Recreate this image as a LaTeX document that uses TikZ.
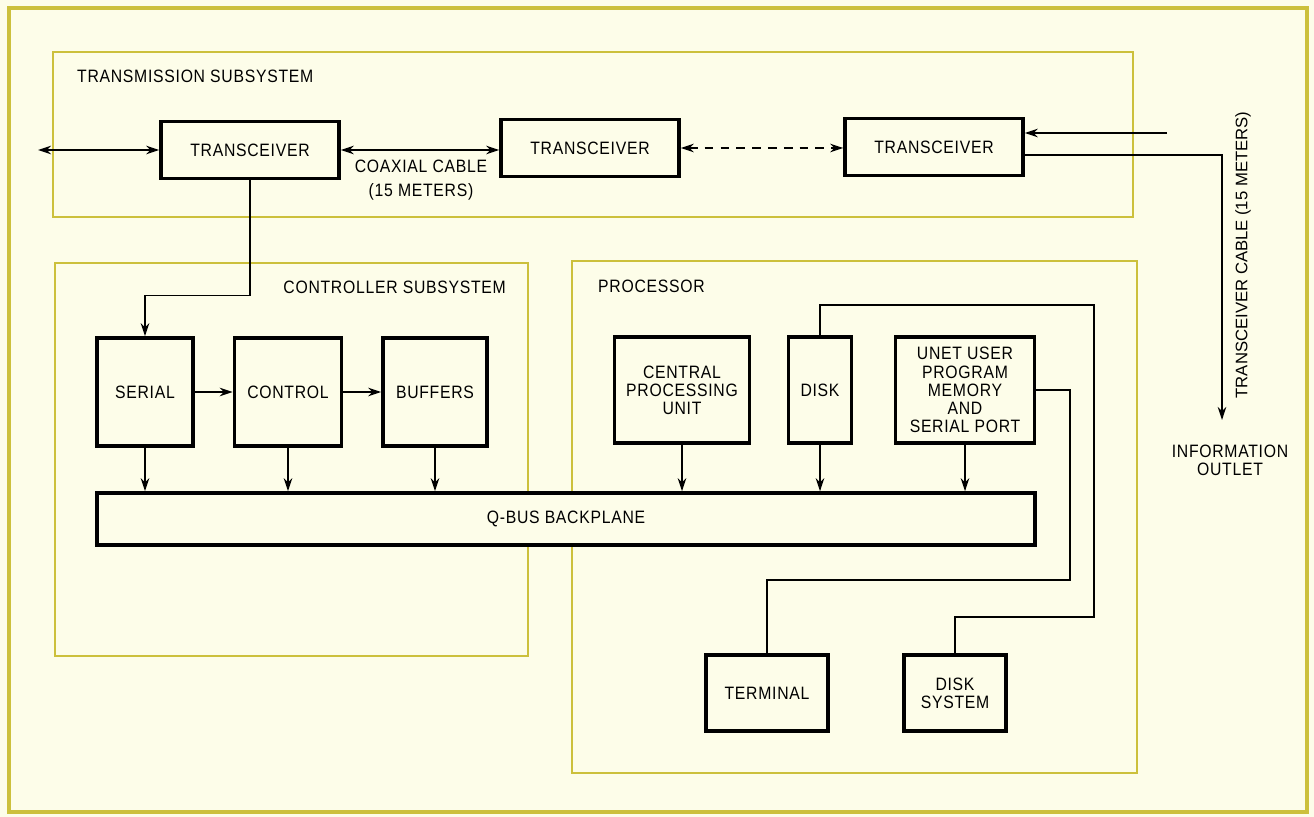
\documentclass[tikz,border=0pt]{standalone}
\usepackage{fontspec}
\setmainfont[FakeStretch=0.88,LetterSpace=4]{Liberation Sans}
\newfontfamily\cablefont{Liberation Sans}
\usetikzlibrary{arrows.meta}
\definecolor{paper}{RGB}{253,253,233}
\definecolor{frameline}{RGB}{204,192,60}

\begin{document}
\begin{tikzpicture}[x=0.02cm, y=-0.02cm, font=\fontsize{10.2}{10.3}\selectfont,
    blk/.style={draw, fill=paper, line width=2pt, align=center, inner sep=1pt},
    tbox/.style={blk, minimum width=3.56cm, minimum height=1.14cm},
    cbox/.style={blk, minimum height=2.16cm},
    pbox/.style={blk, minimum height=2.12cm},
    sub/.style={draw=frameline, line width=0.9pt},
    wire/.style={line width=0.8pt},
    arr/.style={wire, -{Stealth[length=2.6mm,width=1.7mm]}},
    darr/.style={wire, {Stealth[length=2.6mm,width=1.7mm]}-{Stealth[length=2.6mm,width=1.7mm]}}]
    \fill[paper] (0,0) rectangle (1314,817);
    \useasboundingbox (0,0) rectangle (1314,817);
    \draw[frameline, line width=2.2pt] (9,8) rectangle (1307,812);

    % subsystem frames
    \draw[sub] (53,52) rectangle (1133,217);
    \draw[sub] (55,263) rectangle (528,656);
    \draw[sub] (572,261) rectangle (1137,773);
    \node[anchor=west] (tslbl) at (71,76) {TRANSMISSION SUBSYSTEM};
    \node[anchor=east] (cslbl) at (512,287) {CONTROLLER SUBSYSTEM};
    \node[anchor=west] (prlbl) at (592,286) {PROCESSOR};

    % transmission
    \node[tbox] (tr1) at (250,150) {TRANSCEIVER};
    \node[tbox] (tr2) at (590,148) {TRANSCEIVER};
    \node[tbox] (tr3) at (934,147) {TRANSCEIVER};
    \node[align=center] (coax) at (421,180) {COAXIAL CABLE\\[3.5pt](15 METERS)};

    % controller
    \node[cbox, minimum width=1.92cm] (serial) at (145,392) {SERIAL};
    \node[cbox, minimum width=2.14cm] (control) at (288,392) {CONTROL};
    \node[cbox, minimum width=2.08cm] (buffers) at (435,392) {BUFFERS};
    \node[blk, minimum width=18.76cm, minimum height=1.04cm] (qbus) at (566,519) {Q-BUS BACKPLANE};

    % processor
    \node[pbox, minimum width=2.7cm] (cpu) at (682,390) {CENTRAL\\PROCESSING\\UNIT};
    \node[pbox, minimum width=1.26cm] (disk) at (820,390) {DISK};
    \node[pbox, minimum width=2.78cm] (unet) at (965,390) {UNET USER\\PROGRAM\\MEMORY\\AND\\SERIAL PORT};
    \node[blk, minimum width=2.44cm, minimum height=1.52cm] (term) at (767,693) {TERMINAL};
    \node[blk, minimum width=2.04cm, minimum height=1.52cm] (dsys) at (955,693) {DISK\\SYSTEM};

    % outside
    \node[align=center] (outlet) at (1230,460) {INFORMATION\\OUTLET};
    \node[rotate=90, font={\fontsize{9.5}{10}\cablefont}] (cablelbl) at (1243,255) {TRANSCEIVER CABLE (15 METERS)};
    \coordinate (lend) at (38,150);
    \coordinate (cin) at (1167,133);
    \coordinate (cout) at (1222,420);
    \coordinate (dk1) at (1094,305);
    \coordinate (dk2) at (1094,617);
    \coordinate (un1) at (1070,580);

    % connectors
    \draw[darr] (lend) -- (tr1.west);
    \draw[darr] (tr1.east) -- (tr1.east -| tr2.west);
    \draw[darr, dash pattern=on 5pt off 4pt] (tr2.east) -- (tr2.east -| tr3.west);
    \draw[arr] (cin) -- (cin -| tr3.east);
    \draw[arr] ([yshift=-0.16cm]tr3.east) -| (cout);
    \draw[arr] (tr1.south) -- ++(0,115) -| (serial.north);
    \draw[arr] (serial.east) -- (control.west);
    \draw[arr] (control.east) -- (buffers.west);
    \foreach \b in {serial,control,buffers,cpu,disk,unet}
        \draw[arr] (\b.south) -- (\b.south |- qbus.north);
    \draw[wire] (disk.north) |- (dk1) -- (dk2) -| (dsys.north);
    \draw[wire] (unet.east) -| (un1) -| (term.north);
\end{tikzpicture}
\end{document}
